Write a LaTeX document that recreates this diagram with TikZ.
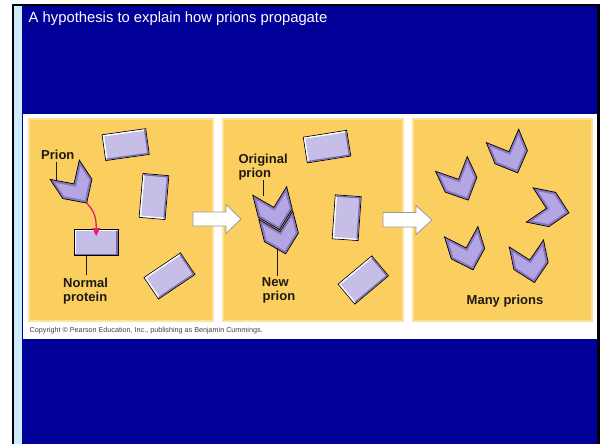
\documentclass[tikz,border=0pt]{standalone}
\usepackage{fontspec}
\setmainfont{Liberation Sans}
\usetikzlibrary{arrows.meta}

\definecolor{slideblue}{RGB}{0,0,153}
\definecolor{stripblue}{RGB}{204,236,255}
\definecolor{panelyellow}{RGB}{250,207,96}
\definecolor{panelrim}{RGB}{253,226,155}
\definecolor{protfill}{RGB}{198,190,230}
\definecolor{protshade}{RGB}{120,105,170}
\definecolor{chevrim}{RGB}{136,118,192}
\definecolor{chevface}{RGB}{180,166,226}
\definecolor{pinkarrow}{RGB}{226,30,110}
\definecolor{labeltext}{RGB}{30,25,20}

\tikzset{
  lbl/.style={font=\bfseries\fontsize{13}{14}\selectfont, text=labeltext, inner sep=0pt, anchor=base west},
  leader/.style={draw=labeltext, line width=0.7pt},
  panel/.style={fill=panelyellow, draw=panelrim, line width=2pt},
  blockarrow/.style={fill=white, draw=black!40, line width=0.8pt, line join=miter},
  % a normal protein: bevelled lavender block
  protein/.pic={
    \path[fill=protfill, draw=black, line width=0.7pt] (-22,-13) rectangle (22,13);
    \draw[white, line width=1.3pt] (-20.8,11.8) -- (-20.8,-11.8) -- (20.8,-11.8);
    \draw[protshade, line width=1.3pt] (20.8,-11.8) -- (20.8,11.8) -- (-20.8,11.8);
    \coordinate (-top) at (0,-13);
    \coordinate (-bottom) at (0,13);
    \coordinate (-hit) at (0,-6.5);
  },
  % a prion: bevelled chevron pointing along local +x
  prion/.pic={
    \path[fill=chevrim, draw=black, line width=0.7pt, line join=miter]
      (-20,-17.5) -- (3,-17.5) -- (20,0) -- (3,17.5) -- (-20,17.5) -- (-3,0) -- cycle;
    \path[fill=chevface]
      (-14.1,-15) -- (1.9,-15) -- (16.5,0) -- (1.9,15) -- (-14.1,15) -- (0.5,0) -- cycle;
    \coordinate (-tip) at (20,0);
  }
}

\begin{document}
\begin{tikzpicture}[x=1pt,y=-1pt]
  \useasboundingbox (0,0) rectangle (602,444);
  \fill[white] (0,0) rectangle (602,444);

  % slide frame
  \fill[black] (12,4.5) rectangle (599.5,444);
  \fill[stripblue] (14,6.5) rectangle (22,444);
  \fill[slideblue] (22,6.5) rectangle (596.8,444);

  \node[anchor=base west, inner sep=0pt, text=white, font=\fontsize{14.8}{16}\selectfont]
    (title) at (28.5,22.6) {A hypothesis to explain how prions propagate};

  % figure panel
  \fill[white] (22.6,113.5) rectangle (596.8,339);
  \path[panel] (29.3,119) rectangle (212.7,321);
  \path[panel] (223.3,119) rectangle (403.3,321);
  \path[panel] (412.7,119) rectangle (592.3,321);

  \node[anchor=base west, inner sep=0pt, text=black!75, font=\fontsize{7.2}{8}\selectfont]
    (copy) at (29.5,332) {Copyright \textcopyright\ Pearson Education, Inc., publishing as Benjamin Cummings.};

  % transition arrows
  \draw[blockarrow] (193,212) -- (226,212) -- (226,204.5) -- (241,219) -- (226,233.5) -- (226,226) -- (193,226) -- cycle;
  \draw[blockarrow] (383,212.5) -- (416,212.5) -- (416,205.5) -- (432,220) -- (416,234.5) -- (416,227) -- (383,227) -- cycle;

  % first panel
  \pic[rotate=8]  (r1) at (125.7,144.6) {protein};
  \pic[rotate=85] (r2) at (154,196.5) {protein};
  \pic            (r3) at (96.2,242.5) {protein};
  \pic[rotate=34] (r4) at (169.5,276) {protein};
  \pic[rotate=-56.6] (p1) at (75.7,186.4) {prion};

  \node[lbl] (prionlbl) at (41,159.5) {Prion};
  \coordinate (prionarm) at (56,181);
  \draw[leader] ([yshift=-2pt]prionlbl.south -| prionarm) -- (prionarm);

  \draw[pinkarrow, line width=1.3pt, -{Triangle[length=8pt,width=7.5pt]}]
    (p1-tip) .. controls (95,212) and (96.2,218) .. (r3-hit);

  \node[lbl] (np1) at (63,287) {Normal};
  \node[lbl] (np2) at (63,301.5) {protein};
  \coordinate (nplead) at (86.7,274.5);
  \draw[leader] (r3-bottom -| nplead) -- (nplead);

  % second panel
  \pic[rotate=9]  (r5) at (327,146.6) {protein};
  \pic[rotate=86] (r6) at (346.7,217.7) {protein};
  \pic[rotate=40] (r7) at (363.3,280) {protein};
  \pic[rotate=-75.8] (newp) at (280.7,234.5) {prion};
  \pic[rotate=-75.8] (orig) at (274.6,210.3) {prion};

  \node[lbl] (or1) at (238.3,163.3) {Original};
  \node[lbl] (or2) at (238.3,177) {prion};
  \coordinate (origend) at (263.3,196);
  \draw[leader] (or2.south -| origend) -- (origend);

  \node[lbl] (nw1) at (261.7,286.7) {New};
  \node[lbl] (nw2) at (262.5,300.5) {prion};
  \coordinate (newstart) at (277.3,248);
  \draw[leader] (newstart) -- ([yshift=1.5pt]newstart |- nw1.north);

  % third panel
  \pic[rotate=-65]   (c1) at (459.8,182)   {prion};
  \pic[rotate=-67.6] (c2) at (510.1,154.4) {prion};
  \pic[rotate=-11.3] (c3) at (549.3,208.9) {prion};
  \pic[rotate=-72.8] (c4) at (467.1,250.8) {prion};
  \pic[rotate=-78.4] (c5) at (530.4,263)   {prion};

  \node[lbl, anchor=base] (many) at (505,304.5) {Many prions};
\end{tikzpicture}
\end{document}
